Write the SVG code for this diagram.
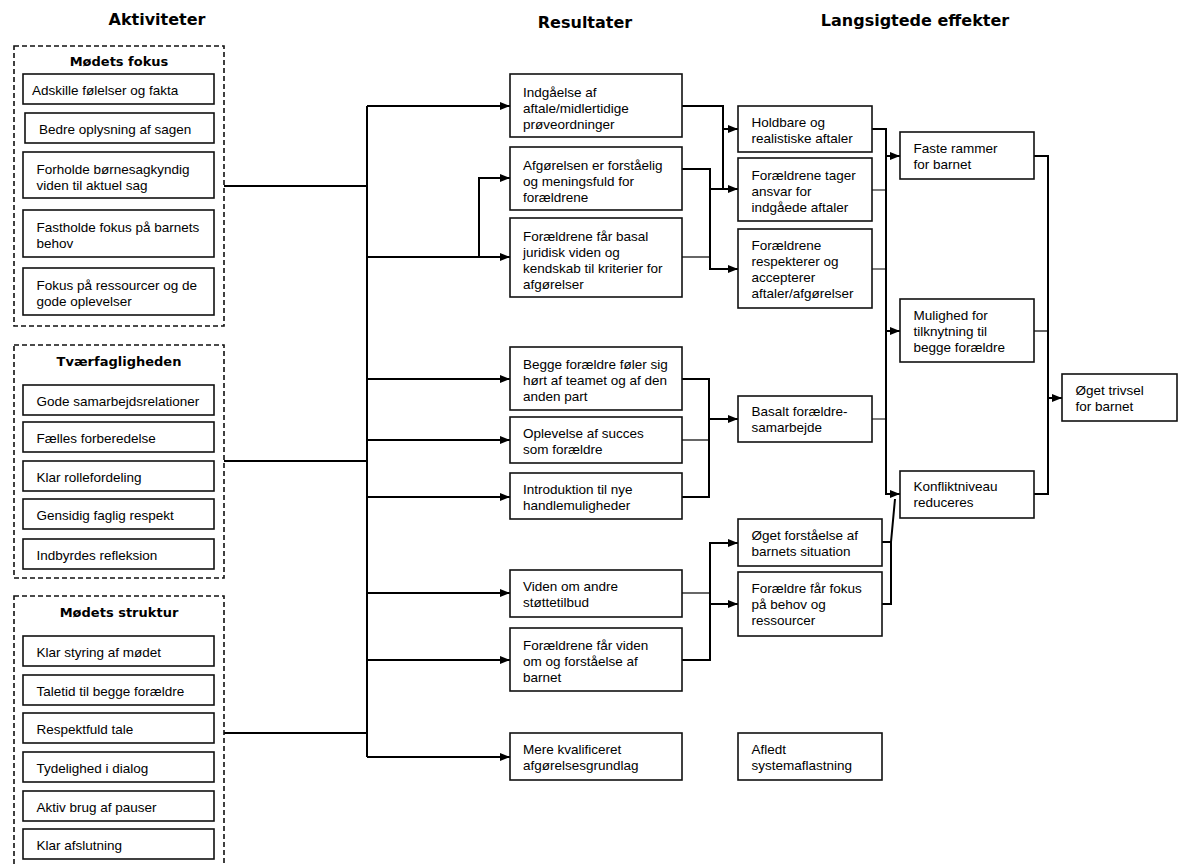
<svg xmlns="http://www.w3.org/2000/svg" width="1178" height="866" viewBox="0 0 1178 866">
<defs>
<style>
.h{font-family:"DejaVu Sans",Verdana,sans-serif;font-weight:bold;font-size:16px;fill:#000;text-anchor:middle}
.ph{font-family:"DejaVu Sans",Verdana,sans-serif;font-weight:bold;font-size:13px;fill:#000;text-anchor:middle}
.t{font-family:"Liberation Sans",Arial,sans-serif;font-size:13.5px;fill:#000}
.b{fill:#fff;stroke:#111;stroke-width:1.6}
.p{fill:none;stroke:#111;stroke-width:1.6;stroke-dasharray:5 3}
.c{fill:none;stroke:#000;stroke-width:2}
.n{fill:none;stroke:#000;stroke-width:1.2}
.a{marker-end:url(#ar)}
</style>
<marker id="ar" viewBox="0 0 10 8" refX="10" refY="4" markerWidth="10" markerHeight="8" markerUnits="userSpaceOnUse" orient="auto"><path d="M0,0 L10,4 L0,8 z" fill="#000"/></marker>
</defs>
<rect width="1178" height="866" fill="#fff"/>

<g id="headings">
<text class="h" x="157" y="25">Aktiviteter</text>
<text class="h" x="585" y="28">Resultater</text>
<text class="h" x="915" y="26">Langsigtede effekter</text>
</g>

<g id="connectors">
<path class="c" d="M224,186 H367 M224,461 H367 M224,733 H367 M367,106 V757"/>
<path class="c a" d="M367,106 H510"/>
<path class="c a" d="M367,257 H510"/>
<path class="c a" d="M479,257 V178 H510"/>
<path class="c a" d="M367,379 H510"/>
<path class="c a" d="M367,440 H510"/>
<path class="c a" d="M367,497 H510"/>
<path class="c a" d="M367,593 H510"/>
<path class="c a" d="M367,660 H510"/>
<path class="c a" d="M367,757 H510"/>
<path class="c" d="M682,106 H723 V189"/>
<path class="c a" d="M723,129 H738"/>
<path class="c a" d="M682,169 H710 V269 H738"/>
<path class="n" d="M682,257 H710"/>
<path class="c a" d="M710,189 H738"/>
<path class="c" d="M682,379 H709 V497 H682"/>
<path class="n" d="M682,440 H709"/>
<path class="c a" d="M709,419 H738"/>
<path class="c a" d="M682,660 H710 V543 H738"/>
<path class="n" d="M682,593 H710"/>
<path class="c a" d="M710,604 H738"/>
<path class="c a" d="M872,129 H886 V494 H900"/>
<path class="n" d="M872,190 H886 M872,269 H886 M872,419 H886"/>
<path class="c a" d="M886,156 H900"/>
<path class="c a" d="M886,331 H900"/>
<path class="c" d="M882,542 H891 V604 H882 M891,542 L895,499"/>
<path class="c" d="M1034,156 H1048 V494 H1034"/>
<path class="n" d="M1034,331 H1048"/>
<path class="c a" d="M1048,398 H1062"/>
</g>

<g id="panel-fokus">
<rect class="p" x="14" y="46" width="210" height="280"/>
<text class="ph" x="119" y="66">Mødets fokus</text>
</g>
<g id="a1"><rect class="b" x="23" y="74" width="191" height="30"/><text class="t" x="32" y="94.5">Adskille følelser og fakta</text></g>
<g id="a2"><rect class="b" x="25" y="113" width="189" height="30"/><text class="t" x="39" y="133.5">Bedre oplysning af sagen</text></g>
<g id="a3"><rect class="b" x="23" y="152" width="191" height="46"/><text class="t"><tspan x="36.5" y="173.5">Forholde børnesagkyndig</tspan><tspan x="36.5" y="189.5">viden til aktuel sag</tspan></text></g>
<g id="a4"><rect class="b" x="23" y="210" width="191" height="47"/><text class="t"><tspan x="36.5" y="231.5">Fastholde fokus på barnets</tspan><tspan x="36.5" y="247.5">behov</tspan></text></g>
<g id="a5"><rect class="b" x="23" y="268" width="191" height="47"/><text class="t"><tspan x="36.5" y="289.5">Fokus på ressourcer og de</tspan><tspan x="36.5" y="305.5">gode oplevelser</tspan></text></g>

<g id="panel-tvaer">
<rect class="p" x="14" y="345" width="210" height="233"/>
<text class="ph" x="119" y="366">Tværfagligheden</text>
</g>
<g id="b1"><rect class="b" x="23" y="385" width="191" height="30"/><text class="t" x="36.5" y="405.5">Gode samarbejdsrelationer</text></g>
<g id="b2"><rect class="b" x="23" y="422" width="191" height="30"/><text class="t" x="36.5" y="442.5">Fælles forberedelse</text></g>
<g id="b3"><rect class="b" x="23" y="461" width="191" height="30"/><text class="t" x="36.5" y="481.5">Klar rollefordeling</text></g>
<g id="b4"><rect class="b" x="23" y="499" width="191" height="30"/><text class="t" x="36.5" y="519.5">Gensidig faglig respekt</text></g>
<g id="b5"><rect class="b" x="23" y="539" width="191" height="30"/><text class="t" x="36.5" y="559.5">Indbyrdes refleksion</text></g>

<g id="panel-struktur">
<rect class="p" x="14" y="596" width="210" height="300"/>
<text class="ph" x="119" y="617">Mødets struktur</text>
</g>
<g id="c1"><rect class="b" x="23" y="636" width="191" height="30"/><text class="t" x="36.5" y="656.5">Klar styring af mødet</text></g>
<g id="c2"><rect class="b" x="23" y="675" width="191" height="30"/><text class="t" x="36.5" y="695.5">Taletid til begge forældre</text></g>
<g id="c3"><rect class="b" x="23" y="713" width="191" height="30"/><text class="t" x="36.5" y="733.5">Respektfuld tale</text></g>
<g id="c4"><rect class="b" x="23" y="752" width="191" height="30"/><text class="t" x="36.5" y="772.5">Tydelighed i dialog</text></g>
<g id="c5"><rect class="b" x="23" y="791" width="191" height="30"/><text class="t" x="36.5" y="811.5">Aktiv brug af pauser</text></g>
<g id="c6"><rect class="b" x="23" y="829" width="191" height="30"/><text class="t" x="36.5" y="849.5">Klar afslutning</text></g>

<g id="r1"><rect class="b" x="510" y="74" width="172" height="63"/><text class="t"><tspan x="523" y="96.5">Indgåelse af</tspan><tspan x="523" y="112.5">aftale/midlertidige</tspan><tspan x="523" y="128.5">prøveordninger</tspan></text></g>
<g id="r2"><rect class="b" x="510" y="147" width="172" height="63"/><text class="t"><tspan x="523" y="169.5">Afgørelsen er forståelig</tspan><tspan x="523" y="185.5">og meningsfuld for</tspan><tspan x="523" y="201.5">forældrene</tspan></text></g>
<g id="r3"><rect class="b" x="510" y="218" width="172" height="79"/><text class="t"><tspan x="523" y="240.5">Forældrene får basal</tspan><tspan x="523" y="256.5">juridisk viden og</tspan><tspan x="523" y="272.5">kendskab til kriterier for</tspan><tspan x="523" y="288.5">afgørelser</tspan></text></g>
<g id="r4"><rect class="b" x="510" y="347" width="172" height="63"/><text class="t"><tspan x="523" y="369">Begge forældre føler sig</tspan><tspan x="523" y="385">hørt af teamet og af den</tspan><tspan x="523" y="401">anden part</tspan></text></g>
<g id="r5"><rect class="b" x="510" y="417" width="172" height="46"/><text class="t"><tspan x="523" y="438">Oplevelse af succes</tspan><tspan x="523" y="454">som forældre</tspan></text></g>
<g id="r6"><rect class="b" x="510" y="473" width="172" height="46"/><text class="t"><tspan x="523" y="494">Introduktion til nye</tspan><tspan x="523" y="510">handlemuligheder</tspan></text></g>
<g id="r7"><rect class="b" x="510" y="570" width="172" height="47"/><text class="t"><tspan x="523" y="591">Viden om andre</tspan><tspan x="523" y="607">støttetilbud</tspan></text></g>
<g id="r8"><rect class="b" x="510" y="628" width="172" height="63"/><text class="t"><tspan x="523" y="650">Forældrene får viden</tspan><tspan x="523" y="666">om og forståelse af</tspan><tspan x="523" y="682">barnet</tspan></text></g>
<g id="r9"><rect class="b" x="510" y="733" width="172" height="47"/><text class="t"><tspan x="523" y="754">Mere kvalificeret</tspan><tspan x="523" y="770">afgørelsesgrundlag</tspan></text></g>

<g id="l1"><rect class="b" x="738" y="106" width="134" height="46"/><text class="t"><tspan x="751.5" y="126.5">Holdbare og</tspan><tspan x="751.5" y="142.5">realistiske aftaler</tspan></text></g>
<g id="l2"><rect class="b" x="738" y="158" width="134" height="63"/><text class="t"><tspan x="751.5" y="179.5">Forældrene tager</tspan><tspan x="751.5" y="195.5">ansvar for</tspan><tspan x="751.5" y="211.5">indgåede aftaler</tspan></text></g>
<g id="l3"><rect class="b" x="738" y="229" width="134" height="79"/><text class="t"><tspan x="751.5" y="250">Forældrene</tspan><tspan x="751.5" y="266">respekterer og</tspan><tspan x="751.5" y="282">accepterer</tspan><tspan x="751.5" y="298">aftaler/afgørelser</tspan></text></g>
<g id="l4"><rect class="b" x="738" y="396" width="134" height="46"/><text class="t"><tspan x="751.5" y="416">Basalt forældre-</tspan><tspan x="751.5" y="432">samarbejde</tspan></text></g>
<g id="l5"><rect class="b" x="738" y="519" width="144" height="47"/><text class="t"><tspan x="751.5" y="539.5">Øget forståelse af</tspan><tspan x="751.5" y="555.5">barnets situation</tspan></text></g>
<g id="l6"><rect class="b" x="738" y="572" width="144" height="64"/><text class="t"><tspan x="751.5" y="593">Forældre får fokus</tspan><tspan x="751.5" y="609">på behov og</tspan><tspan x="751.5" y="625">ressourcer</tspan></text></g>
<g id="l7"><rect class="b" x="738" y="733" width="144" height="47"/><text class="t"><tspan x="751.5" y="754">Afledt</tspan><tspan x="751.5" y="770">systemaflastning</tspan></text></g>

<g id="f1"><rect class="b" x="900" y="132" width="134" height="47"/><text class="t"><tspan x="913.5" y="153">Faste rammer</tspan><tspan x="913.5" y="169">for barnet</tspan></text></g>
<g id="f2"><rect class="b" x="900" y="299" width="134" height="63"/><text class="t"><tspan x="913.5" y="320">Mulighed for</tspan><tspan x="913.5" y="336">tilknytning til</tspan><tspan x="913.5" y="352">begge forældre</tspan></text></g>
<g id="f3"><rect class="b" x="900" y="471" width="134" height="47"/><text class="t"><tspan x="913.5" y="491">Konfliktniveau</tspan><tspan x="913.5" y="507">reduceres</tspan></text></g>

<g id="g1"><rect class="b" x="1062" y="374" width="115" height="47"/><text class="t"><tspan x="1075.5" y="394.5">Øget trivsel</tspan><tspan x="1075.5" y="410.5">for barnet</tspan></text></g>
</svg>
